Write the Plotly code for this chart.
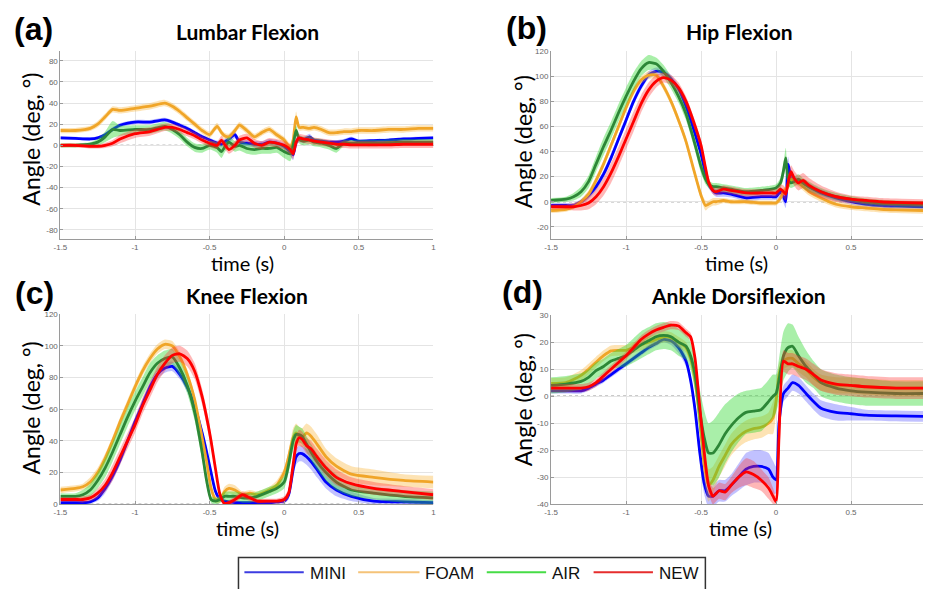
import plotly.graph_objects as go

W, H = 926, 589

SERIES = ["MINI", "FOAM", "AIR", "NEW"]
LINE_COLORS = ["rgb(0,0,255)", "rgb(240,165,40)", "rgb(45,135,55)", "rgb(255,0,0)"]
BAND_COLORS = ["rgba(50,50,255,0.30)", "rgba(250,175,40,0.35)",
               "rgba(40,215,40,0.40)", "rgba(255,50,50,0.35)"]
LEGEND_COLORS = ["rgb(60,60,225)", "rgb(245,195,120)", "rgb(70,220,70)", "rgb(230,45,45)"]

X_TICKS = [-1.5, -1, -0.5, 0, 0.5, 1]
X_TICK_TEXT = ["-1.5", "-1", "-0.5", "0", "0.5", "1"]

# ---------------- (a) Lumbar flexion ----------------
T_A = [-1.5, -1.4, -1.3, -1.25, -1.2, -1.15, -1.1, -1.0, -0.9, -0.8,
       -0.75, -0.7, -0.65, -0.6, -0.55, -0.5, -0.45, -0.42, -0.4, -0.37,
       -0.33, -0.3, -0.25, -0.2, -0.15, -0.1, -0.05, 0.0, 0.04, 0.06,
       0.08, 0.1, 0.13, 0.17, 0.2, 0.25, 0.3, 0.35, 0.4, 0.45,
       0.5, 0.6, 0.7, 0.8, 0.9, 1.0]
MINI_A = [7, 6.5, 6, 7, 10, 15, 19, 22, 22, 24,
          22, 19, 16, 12, 8, 5, 2, 1, 3, 6,
          10, 3, 2, 1, 1, 3, 2, -1, -6, -9,
          3, 6, 5, 8, 5, 4, 3, 3, 4, 6,
          4, 4.5, 5, 6, 6.5, 7]
FOAM_A = [14, 14, 16, 20, 27, 34, 33, 35, 37, 40,
          37, 32, 26, 20, 14, 10, 18, 12, 9, 8,
          14, 19, 14, 8, 12, 15, 10, 5, -2, 5,
          27, 17, 17, 16, 17, 15, 12, 12, 13, 13,
          14, 14, 15, 15, 16, 16]
AIR_A = [0, 0, 1, 3, 8, 15, 14, 15, 15, 18,
         15, 10, 3, -2, -3, 0, -2, -6, -2, 3,
         -1, 0, -3, -4, -3, -3, -2, -6, -8, 0,
         14, 6, 4, 5, 3, 2, 0, -3, 2, 2,
         2, 2, 2.5, 3, 3, 3]
NEW_A = [0, 0, -1, -1, 0, 2, 6, 11, 13, 17,
         17, 15, 12, 9, 5, 2, 0, 5, 1, -4,
         0, 5, 7, 2, 0, 3, 2, 0, -4, -8,
         3, 7, 6, 5, 4, 3, 2, 1, 1, 0.5,
         0.5, 0.5, 0.5, 1, 1, 1]
SD_MINI_A = [1.5, 1.5, 1.5, 1.5, 2, 2, 2, 2, 2, 2,
             2, 2, 2, 2, 2, 2, 2.5, 3, 3, 4,
             3, 3, 3, 3, 3, 3, 3, 3, 4, 5,
             4, 3, 3, 3, 2, 2, 2, 2, 2, 2,
             1.5, 1.5, 1.5, 1.5, 1.5, 1.5]
SD_FOAM_A = [2.5, 2.5, 2.5, 3, 3, 3, 3, 3, 3, 3,
             3, 3, 3, 3, 3, 3, 3, 3, 3, 3,
             3, 3, 3, 3, 3, 3, 3, 3, 4, 4,
             5, 3, 3, 3, 3, 3, 3, 3, 3, 3,
             3, 3, 3, 3, 3, 3]
SD_AIR_A = [2, 2, 2, 3, 5, 8, 5, 4, 4, 4,
            4, 4, 4, 4, 4, 4, 5, 6, 5, 5,
            5, 5, 5, 5, 5, 5, 5, 6, 7, 6,
            5, 4, 4, 4, 4, 4, 4, 4, 3, 3,
            3, 3, 3, 3, 3, 3]
SD_NEW_A = [2, 2, 2, 2, 2.5, 3, 4, 4, 4, 3.5,
            3.5, 3.5, 3.5, 3.5, 3.5, 3.5, 3.5, 4, 4, 4,
            4, 4, 4, 4, 4, 4, 4, 4, 5, 5,
            4, 4, 4, 3.5, 3.5, 3.5, 3.5, 3.5, 3.5, 3.5,
            3.5, 3.5, 3.5, 3.5, 3.5, 3.5]

# ---------------- (b) Hip flexion ----------------
T_B = [-1.5, -1.4, -1.35, -1.3, -1.25, -1.2, -1.15, -1.1, -1.05, -1.0,
       -0.95, -0.9, -0.85, -0.8, -0.75, -0.7, -0.65, -0.6, -0.55, -0.5,
       -0.47, -0.45, -0.42, -0.4, -0.35, -0.3, -0.2, -0.1, -0.03, 0.0,
       0.03, 0.05, 0.065, 0.08, 0.1, 0.12, 0.15, 0.18, 0.22, 0.3,
       0.4, 0.5, 0.6, 0.7, 0.8, 0.98]
MINI_B = [-3, -3, -3, 0, 5, 12, 22, 35, 50, 65,
          80, 92, 101, 104, 103, 98, 90, 76, 58, 38,
          22, 14, 9, 7, 7, 6, 3, 4, 4, 4,
          8, 4, 0, 30, 20, 18, 16, 15, 12, 7,
          3, 0, -2, -3, -3.5, -4]
FOAM_B = [-7, -6, -4, 0, 6, 17, 30, 45, 60, 75,
          88, 97, 101, 101, 92, 80, 65, 48, 26, 5,
          -3, -2, 0, 0, 1, 0, 0, -1, -1, -1,
          3, 8, 10, 12, 18, 17, 15, 12, 8, 3,
          -2, -4, -5, -6, -6.5, -7]
AIR_B = [1, 2, 4, 8, 16, 30, 44, 57, 71, 84,
         96, 106, 111, 110, 104, 95, 84, 70, 50, 28,
         18, 14, 12, 12, 11, 10, 8, 9, 10, 11,
         15, 25, 35, 18, 15, 16, 18, 15, 12, 8,
         4, 2, 0, -1, -1.5, -2]
NEW_B = [-4, -4, -4, -3, -1, 4, 12, 23, 36, 50,
         64, 78, 89, 96, 99, 97, 91, 80, 64, 45,
         27, 16, 9, 8, 10, 9, 7, 7, 7, 7,
         10, 8, 6, 15, 24, 19, 15, 17, 13, 8,
         4, 2, 1, 0, -0.5, -1]
SD_MINI_B = [2, 2, 2, 2, 3, 3, 3, 3, 3, 3,
             3, 3, 3, 3, 3, 3, 3, 3, 3, 3,
             3, 3, 3, 3, 3, 2.5, 2.5, 2.5, 2.5, 2.5,
             4, 5, 5, 6, 4, 3, 3, 3, 3, 3,
             2.5, 2.5, 2.5, 2.5, 2.5, 2.5]
SD_FOAM_B = [2, 2, 2, 2, 3, 3, 3, 3, 3, 3,
             3, 3, 3, 3, 3, 3, 3, 3, 3, 3,
             4, 3, 3, 3, 2, 2, 2, 2, 2, 2,
             3, 3, 3, 3, 3, 3, 3, 3, 3, 3,
             2.5, 2.5, 2.5, 2.5, 2.5, 2.5]
SD_AIR_B = [2, 2, 3, 4, 5, 6, 7, 7, 7, 7,
            7, 6, 6, 5, 5, 5, 5, 5, 5, 5,
            4, 3, 3, 3, 3, 3, 3, 3, 3, 3,
            4, 6, 8, 5, 4, 4, 4, 4, 4, 3,
            3, 2.5, 2.5, 2.5, 2.5, 2.5]
SD_NEW_B = [2, 2, 3, 4, 5, 6, 7, 8, 8, 8,
            8, 7, 6, 5, 4, 4, 4, 4, 4, 4,
            4, 4, 3, 3, 3, 3, 3, 3, 3, 3,
            4, 5, 5, 5, 5, 6, 6, 6, 6, 5,
            4, 3, 3, 3, 3, 3]

# ---------------- (c) Knee flexion ----------------
T_C = [-1.5, -1.4, -1.35, -1.3, -1.25, -1.2, -1.15, -1.1, -1.05, -1.0,
       -0.95, -0.9, -0.85, -0.8, -0.75, -0.7, -0.65, -0.6, -0.55, -0.52,
       -0.49, -0.46, -0.43, -0.4, -0.37, -0.33, -0.28, -0.23, -0.18, -0.1,
       -0.05, 0.0, 0.03, 0.06, 0.08, 0.1, 0.12, 0.15, 0.18, 0.22,
       0.28, 0.35, 0.45, 0.6, 0.8, 1.0]
MINI_C = [1, 1, 1, 1.5, 4, 10, 18, 28, 40, 52,
          63, 74, 82, 86, 87, 82, 74, 62, 45, 33,
          20, 8, 3, 2, 1.5, 1, 1, 1, 1, 1,
          1.5, 2, 6, 22, 30, 32, 32, 30, 27, 22,
          14, 9, 5, 2, 1.5, 1]
FOAM_C = [9, 10, 11, 14, 20, 29, 40, 52, 63, 74,
          84, 92, 98, 101, 100, 93, 82, 66, 42, 27,
          10, 3, 3, 8, 10, 9, 6, 7, 6, 9,
          12, 20, 30, 42, 45, 43, 42, 45, 43, 38,
          30, 24, 19, 17, 15, 14]
AIR_C = [5, 5, 6, 9, 15, 23, 33, 44, 55, 65,
         74, 83, 89, 92, 93, 86, 75, 58, 33, 15,
         3, 2, 3, 5, 5, 5, 4, 4, 5, 8,
         10, 14, 25, 40, 44, 44, 43, 38, 33, 27,
         20, 14, 9, 7, 5, 4]
NEW_C = [3, 3, 3, 4, 7, 12, 20, 30, 40, 50,
         62, 72, 82, 89, 94, 95, 92, 84, 68, 55,
         40, 22, 6, 0.5, 1, 3, 6, 4, 2, 2,
         2, 3, 7, 25, 38, 42, 41, 37, 35, 30,
         23, 17, 13, 10, 8, 6]
SD_MINI_C = [1, 1, 1, 1, 2, 3, 3, 3, 3, 3,
             3, 3, 3, 3, 3, 3, 3, 3, 3, 3,
             3, 2, 1.5, 1, 1, 1, 1, 1, 1, 1,
             1, 1.5, 3, 5, 5, 5, 5, 5, 5, 5,
             4, 4, 3, 2, 2, 1.5]
SD_FOAM_C = [2, 2, 2, 3, 3, 3, 3, 3, 3, 3,
             3, 3, 3, 3, 3, 3, 3, 3, 3, 3,
             3, 2, 2, 3, 3, 3, 2, 2, 2, 2,
             3, 3, 4, 6, 6, 6, 6, 6, 6, 6,
             5, 5, 5, 5, 4, 4]
SD_AIR_C = [2, 2, 3, 4, 5, 6, 6, 6, 6, 6,
            6, 6, 5, 5, 5, 5, 5, 5, 5, 4,
            2, 2, 2, 3, 3, 3, 3, 3, 3, 3,
            3, 4, 5, 6, 6, 5, 5, 5, 5, 5,
            5, 5, 4, 4, 4, 4]
SD_NEW_C = [1.5, 1.5, 2, 2, 3, 4, 5, 5, 5, 5,
            5, 5, 5, 5, 5, 5, 5, 5, 5, 5,
            4, 3, 2, 1, 1.5, 2, 2, 2, 1.5, 1.5,
            1.5, 2, 3, 5, 5, 5, 5, 5, 5, 5,
            5, 5, 4, 4, 3.5, 3.5]

# ---------------- (d) Ankle dorsiflexion ----------------
T_D = [-1.5, -1.4, -1.3, -1.25, -1.2, -1.15, -1.1, -1.05, -1.0, -0.95,
       -0.9, -0.85, -0.8, -0.75, -0.7, -0.65, -0.6, -0.57, -0.54, -0.51,
       -0.48, -0.45, -0.42, -0.38, -0.34, -0.3, -0.25, -0.2, -0.15, -0.1,
       -0.05, -0.02, 0.0, 0.02, 0.05, 0.08, 0.11, 0.15, 0.2, 0.25,
       0.3, 0.4, 0.5, 0.6, 0.8, 0.98]
MINI_D = [2, 2, 2, 3, 4.5, 6, 8, 10, 12, 14,
          16, 18, 19.5, 21, 20.5, 18, 13, 6, -5, -20,
          -32, -37, -37, -35, -35, -33, -30, -27, -26, -26,
          -27, -30, -31, -10, 1, 3, 5, 4, 1, -2,
          -4.5, -6, -6.5, -7, -7.3, -7.5]
FOAM_D = [4.7, 5, 7.7, 10, 12.6, 15, 16.8, 17, 17, 18,
          19, 20, 21, 22, 21.7, 20, 18, 14, 6, -8,
          -25, -33, -31, -26, -22, -18, -15, -13, -12, -11.5,
          -10, -8, -2, 8, 13, 14, 14, 12, 10, 7,
          5, 4, 4, 3.5, 3, 3]
AIR_D = [4, 4.5, 5.5, 7, 9.5, 11, 13, 14, 15, 17,
         19, 20.5, 22, 22.5, 22, 20, 18.5, 15, 8, -5,
         -15, -21, -21, -18, -14, -11, -8, -6, -5.5, -5,
         -2, 0, 1, 6, 15, 18, 18.5, 15, 11, 8,
         5, 3, 2, 1.5, 1, 1]
NEW_D = [3, 3, 3, 3.5, 5, 7.5, 10, 12.5, 15, 18,
         21, 23, 24.5, 25.5, 26.3, 26, 23.5, 22, 14, -3,
         -20, -33, -37, -35, -35.5, -33, -30, -28, -29, -31,
         -34, -37, -39, -15, 13, 12, 12, 11, 10, 8,
         6, 4.5, 4, 3.5, 3, 3]
SD_MINI_D = [1, 1, 1, 1, 1, 1, 1, 1, 1, 1,
             1, 1, 1, 1, 1.5, 2, 2, 2, 3, 4,
             4, 4, 4, 4, 4, 4, 5, 6, 6, 6,
             6, 6, 5, 5, 3, 3, 3, 3, 3, 3,
             3, 3, 2.5, 2, 2, 2]
SD_FOAM_D = [2, 2, 2, 2, 2, 2, 2, 2, 2, 2,
             2, 2, 2, 2, 2, 2, 2, 2, 3, 4,
             5, 6, 5, 4, 4, 4, 4, 4, 4, 4,
             4, 6, 4, 4, 3, 3, 3, 3, 3, 3,
             3, 3, 3, 3, 3, 3]
SD_AIR_D = [3, 3, 3, 3, 3, 3, 3, 3.5, 4, 4.5,
            5, 5, 5, 5, 5, 5, 5, 5, 6, 8,
            10, 11, 12, 12, 11, 10, 9, 8, 8, 8,
            8, 8, 7, 8, 9, 9, 8, 7, 6, 5,
            5, 5, 5, 5, 4.5, 4.5]
SD_NEW_D = [1.5, 1.5, 1.5, 1.5, 1.5, 1.5, 1.5, 1.5, 1.5, 1.5,
            1.5, 1.5, 1.5, 1.5, 1.5, 1.5, 1.5, 1.5, 2, 3,
            3, 3, 3, 3, 3, 3, 4, 5, 5, 4,
            4, 3, 2, 3, 4, 4, 4, 4, 4, 4,
            4, 4, 4, 4, 4, 4]

PANELS = [
    dict(xa="x", ya="y", t=T_A, means=[MINI_A, FOAM_A, AIR_A, NEW_A],
         sds=[SD_MINI_A, SD_FOAM_A, SD_AIR_A, SD_NEW_A]),
    dict(xa="x2", ya="y2", t=T_B, means=[MINI_B, FOAM_B, AIR_B, NEW_B],
         sds=[SD_MINI_B, SD_FOAM_B, SD_AIR_B, SD_NEW_B]),
    dict(xa="x3", ya="y3", t=T_C, means=[MINI_C, FOAM_C, AIR_C, NEW_C],
         sds=[SD_MINI_C, SD_FOAM_C, SD_AIR_C, SD_NEW_C]),
    dict(xa="x4", ya="y4", t=T_D, means=[MINI_D, FOAM_D, AIR_D, NEW_D],
         sds=[SD_MINI_D, SD_FOAM_D, SD_AIR_D, SD_NEW_D]),
]

SPLINE = dict(shape="spline", smoothing=0.6)

fig = go.Figure()
for p in PANELS:
    for name, m, s, lc, bc in zip(SERIES, p["means"], p["sds"], LINE_COLORS, BAND_COLORS):
        lo = [a - b for a, b in zip(m, s)]
        hi = [a + b for a, b in zip(m, s)]
        fig.add_trace(go.Scatter(x=p["t"], y=lo, xaxis=p["xa"], yaxis=p["ya"], mode="lines",
                                 line=dict(width=0, **SPLINE), showlegend=False, hoverinfo="skip"))
        fig.add_trace(go.Scatter(x=p["t"], y=hi, xaxis=p["xa"], yaxis=p["ya"], mode="lines",
                                 line=dict(width=0, **SPLINE), fill="tonexty", fillcolor=bc,
                                 showlegend=False, hoverinfo="skip"))
        fig.add_trace(go.Scatter(x=p["t"], y=m, xaxis=p["xa"], yaxis=p["ya"], mode="lines",
                                 line=dict(color=lc, width=2.8, **SPLINE), name=name,
                                 showlegend=False))


def px(x):
    return x / W


def py(y):
    return 1 - y / H


TICK_FONT = dict(family="Liberation Sans, Arial", size=8, color="#666")


def xaxis(dom, rng, anchor):
    return dict(domain=dom, range=rng, anchor=anchor, tickvals=X_TICKS, ticktext=X_TICK_TEXT,
                showgrid=True, gridcolor="#e4e4e4", gridwidth=1, zeroline=False,
                showline=True, linecolor="#9a9a9a", linewidth=1, ticks="inside",
                ticklen=3, tickcolor="#9a9a9a", tickfont=TICK_FONT, fixedrange=True)


def yaxis(dom, rng, anchor, ticks):
    return dict(domain=dom, range=rng, anchor=anchor, tickvals=ticks,
                ticktext=[str(v) for v in ticks],
                showgrid=True, gridcolor="#e4e4e4", gridwidth=1, zeroline=False,
                showline=True, linecolor="#9a9a9a", linewidth=1, ticks="inside",
                ticklen=3, tickcolor="#9a9a9a", tickfont=TICK_FONT, fixedrange=True)


LEFT = [px(54), px(431)]
RIGHT = [px(550), 1.0]
TOP = [py(239), py(48)]
BOTTOM = [py(508), py(315)]

fig.update_layout(
    width=W, height=H, margin=dict(l=0, r=0, t=0, b=0),
    paper_bgcolor="white", plot_bgcolor="white", showlegend=False,
    xaxis=xaxis(LEFT, [-1.5, 1.0], "y"),
    yaxis=yaxis(TOP, [-89, 89], "x", [-80, -60, -40, -20, 0, 20, 40, 60, 80]),
    xaxis2=xaxis(RIGHT, [-1.5, 0.98], "y2"),
    yaxis2=yaxis(TOP, [-30, 120], "x2", [-20, 0, 20, 40, 60, 80, 100, 120]),
    xaxis3=xaxis(LEFT, [-1.5, 1.0], "y3"),
    yaxis3=yaxis(BOTTOM, [0, 120], "x3", [0, 20, 40, 60, 80, 100, 120]),
    xaxis4=xaxis(RIGHT, [-1.5, 0.98], "y4"),
    yaxis4=yaxis([py(508), py(316)], [-40, 30], "x4", [-40, -30, -20, -10, 0, 10, 20, 30]),
)

shapes = []
for p in PANELS:
    shapes.append(dict(type="line", xref=p["xa"] + " domain", yref=p["ya"], x0=0, x1=1,
                       y0=0, y1=0, line=dict(color="#555", width=1, dash="dot"), layer="below"))

annotations = []


def label(text, x, y, size, bold=False, angle=0, family="Lato", color="black", xanchor="center"):
    annotations.append(dict(text=f"<b>{text}</b>" if bold else text, x=px(x), y=py(y),
                            xref="paper", yref="paper", xanchor=xanchor, yanchor="middle",
                            showarrow=False, textangle=angle,
                            font=dict(family=family, size=size, color=color)))


# panel letters, titles, axis titles
for letter, lx, ly, title, tx, ty, ytx, yty, xtx, xty in [
    ("(a)", 27, 25, "Lumbar Flexion", 243, 28, 24, 137, 238, 263),
    ("(b)", 525, 24, "Hip Flexion", 740, 28, 521, 140, 737, 263),
    ("(c)", 28, 293, "Knee Flexion", 243, 296, 24, 410, 243, 532),
    ("(d)", 521, 292, "Ankle Dorsiflexion", 739, 296, 521, 402, 742, 532),
]:
    label(letter, lx, ly, 32, bold=True, family="Liberation Sans, Arial")
    label(title, tx, ty, 21, bold=True)
    label("Angle (deg, °)", ytx, yty, 23, angle=-90)
    label("time (s)", xtx, xty, 20)

# legend box along the bottom edge
shapes.append(dict(type="rect", xref="paper", yref="paper", x0=px(234), x1=px(706),
                   y0=py(600), y1=py(562), line=dict(color="#333", width=1.5),
                   fillcolor="white", layer="above"))
for name, col, x0, x1 in zip(SERIES, LEGEND_COLORS, [240, 355, 485, 593], [300, 417, 545, 653]):
    shapes.append(dict(type="line", xref="paper", yref="paper", x0=px(x0), x1=px(x1),
                       y0=py(577), y1=py(577), line=dict(color=col, width=2), layer="above"))
    label(name, x1 + 4, 578, 17, family="Liberation Sans, Arial", color="#111", xanchor="left")

fig.update_layout(shapes=shapes, annotations=annotations)
fig.write_html("out.html")
